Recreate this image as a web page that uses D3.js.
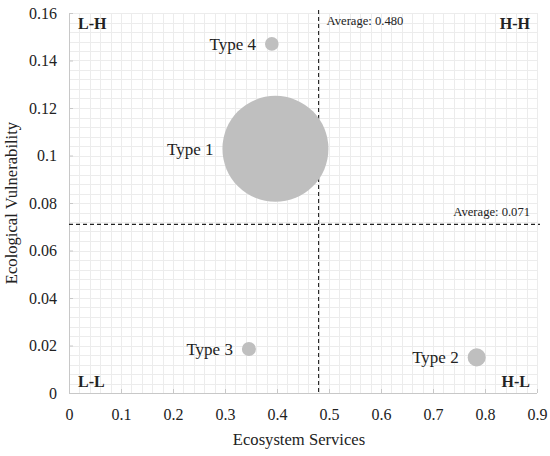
<!DOCTYPE html>
<html>
<head>
<meta charset="utf-8">
<script src="https://cdn.jsdelivr.net/npm/d3@7"></script>
<style>
  body { margin: 0; background: #fff; }
  svg text { font-family: "Liberation Serif", "Times New Roman", serif; fill: #222; }
  .grid line { stroke: #ececec; stroke-width: 1; }
  .axis path, .axis line { stroke: #c8c8c8; }
</style>
</head>
<body>
<svg id="chart" width="550" height="456"></svg>
<script>
  // Bubble data
  var types = ['Type 1', 'Type 2', 'Type 3', 'Type 4'];
  var ecosystemServices = [0.397, 0.784, 0.346, 0.390];
  var ecoVulnerability = [0.1028, 0.0150, 0.0185, 0.1470];
  var bubbleWeight = [100, 2.9, 1.75, 1.65];

  var avgServices = 0.480;
  var avgVulnerability = 0.071;

  var xTicks = [0, 0.1, 0.2, 0.3, 0.4, 0.5, 0.6, 0.7, 0.8, 0.9];
  var yTicks = [0, 0.02, 0.04, 0.06, 0.08, 0.1, 0.12, 0.14, 0.16];

  var quadrants = [
    { name: 'L-H', side: 'left', level: 'top' },
    { name: 'H-H', side: 'right', level: 'top' },
    { name: 'L-L', side: 'left', level: 'bottom' },
    { name: 'H-L', side: 'right', level: 'bottom' }
  ];

  var margin = { top: 13, right: 13, bottom: 63, left: 69 };
  var svg = d3.select('#chart');
  var width = 550 - margin.left - margin.right;
  var height = 456 - margin.top - margin.bottom;

  var x = d3.scaleLinear().domain([0, 0.9]).range([0, width]);
  var y = d3.scaleLinear().domain([0, 0.16]).range([height, 0]);
  var r = d3.scaleSqrt().domain([0, d3.max(bubbleWeight)]).range([0, 53]);

  var g = svg.append('g').attr('transform', 'translate(' + margin.left + ',' + margin.top + ')');

  // minor grid
  var grid = g.append('g').attr('class', 'grid');
  grid.selectAll('line.v')
    .data(d3.range(0, 0.9001, 0.02))
    .enter().append('line')
    .attr('class', 'v')
    .attr('x1', function(d) { return Math.round(x(d)) + 0.5; })
    .attr('x2', function(d) { return Math.round(x(d)) + 0.5; })
    .attr('y1', 0).attr('y2', height);
  grid.selectAll('line.h')
    .data(d3.range(0, 0.1601, 0.004))
    .enter().append('line')
    .attr('class', 'h')
    .attr('y1', function(d) { return Math.round(y(d)) + 0.5; })
    .attr('y2', function(d) { return Math.round(y(d)) + 0.5; })
    .attr('x1', 0).attr('x2', width);

  // axes
  var xAxis = g.append('g').attr('class', 'axis')
    .attr('transform', 'translate(0,' + height + ')')
    .call(d3.axisBottom(x).tickValues(xTicks).tickSizeInner(-4).tickSizeOuter(0)
      .tickFormat(function(d) { return d === 0 ? '0' : d3.format('.1f')(d); }));
  xAxis.selectAll('text').attr('dy', '1.5em').style('font-size', '16px');
  xAxis.select('.domain').remove();
  g.append('line').attr('class', 'axisline')
    .attr('x1', 0).attr('x2', width).attr('y1', height + 0.5).attr('y2', height + 0.5)
    .attr('stroke', '#c8c8c8');

  var yAxis = g.append('g').attr('class', 'axis')
    .call(d3.axisLeft(y).tickValues(yTicks).tickSizeInner(-4).tickSizeOuter(0)
      .tickFormat(function(d) { return d === 0 ? '0' : d3.format('')(+d.toFixed(2)); }));
  yAxis.selectAll('text').attr('x', -12).style('font-size', '16px');
  yAxis.select('.domain').remove();
  g.append('line')
    .attr('x1', 0.5).attr('x2', 0.5).attr('y1', 0).attr('y2', height)
    .attr('stroke', '#c8c8c8');

  // axis titles
  svg.append('text')
    .attr('x', margin.left + width / 2 - 4)
    .attr('y', 445)
    .attr('text-anchor', 'middle')
    .style('font-size', '16.6px')
    .text('Ecosystem Services');
  svg.append('text')
    .attr('transform', 'translate(17,' + (margin.top + height / 2) + ') rotate(-90)')
    .attr('text-anchor', 'middle')
    .style('font-size', '16.6px')
    .text('Ecological Vulnerability');

  // average lines
  g.append('line')
    .attr('x1', x(avgServices)).attr('x2', x(avgServices))
    .attr('y1', -3).attr('y2', height)
    .attr('stroke', '#222').attr('stroke-width', 1.1).attr('stroke-dasharray', '4,3');
  g.append('line')
    .attr('x1', 0).attr('x2', width + 3)
    .attr('y1', y(avgVulnerability)).attr('y2', y(avgVulnerability))
    .attr('stroke', '#222').attr('stroke-width', 1.1).attr('stroke-dasharray', '4,3');

  g.append('text')
    .attr('x', x(avgServices) + 8).attr('y', 12)
    .style('font-size', '12.6px')
    .text('Average: ' + d3.format('.3f')(avgServices));
  g.append('text')
    .attr('x', width - 7).attr('y', y(avgVulnerability) - 8)
    .attr('text-anchor', 'end')
    .style('font-size', '12.6px')
    .text('Average: ' + d3.format('.3f')(avgVulnerability));

  // quadrant labels
  g.selectAll('text.quad')
    .data(quadrants)
    .enter().append('text')
    .attr('class', 'quad')
    .attr('x', function(d) { return d.side === 'left' ? 9 : width - 7; })
    .attr('y', function(d) { return d.level === 'top' ? 16 : height - 6; })
    .attr('text-anchor', function(d) { return d.side === 'left' ? 'start' : 'end'; })
    .style('font-size', '16px')
    .style('font-weight', 'bold')
    .text(function(d) { return d.name; });

  // bubbles
  var points = types.map(function(t, i) {
    return { name: t, es: ecosystemServices[i], ev: ecoVulnerability[i], w: bubbleWeight[i] };
  });

  var bubble = g.selectAll('g.bubble')
    .data(points)
    .enter().append('g')
    .attr('class', 'bubble');

  bubble.append('circle')
    .attr('cx', function(d) { return x(d.es); })
    .attr('cy', function(d) { return y(d.ev); })
    .attr('r', function(d) { return r(d.w); })
    .attr('fill', '#bfbfbf');

  bubble.append('text')
    .attr('x', function(d) { return x(d.es) - r(d.w) - 9; })
    .attr('y', function(d) { return y(d.ev); })
    .attr('dy', '0.35em')
    .attr('text-anchor', 'end')
    .style('font-size', '17px')
    .text(function(d) { return d.name; });
</script>
</body>
</html>
